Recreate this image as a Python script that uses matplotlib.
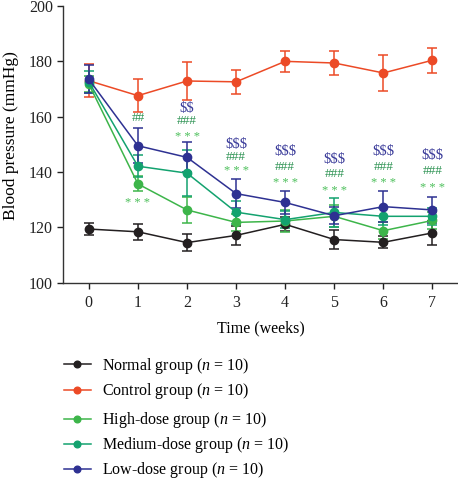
import matplotlib
matplotlib.use("Agg")
import matplotlib.pyplot as plt
from matplotlib.lines import Line2D

plt.rcParams['font.family'] = ['Liberation Serif', 'DejaVu Serif']
plt.rcParams['mathtext.fontset'] = 'custom'
plt.rcParams['mathtext.it'] = 'Liberation Serif:italic'
plt.rcParams['mathtext.rm'] = 'Liberation Serif'

weeks = [0, 1, 2, 3, 4, 5, 6, 7]

normal = [119.4, 118.4, 114.5, 117.1, 121.1, 115.6, 114.6, 118.0]
normal_err = [2.2, 2.9, 3.2, 3.3, 2.5, 3.5, 2.2, 4.2]

control = [173.0, 167.6, 172.9, 172.6, 180.0, 179.4, 175.8, 180.4]
control_err = [6.0, 6.0, 6.8, 4.4, 3.8, 4.3, 6.4, 4.6]

high = [171.8, 135.7, 126.3, 121.8, 122.3, 124.0, 118.8, 122.5]
high_err = [3.0, 2.7, 4.7, 3.0, 4.0, 4.0, 3.0, 3.0]

medium = [172.6, 142.1, 139.6, 125.5, 122.8, 125.4, 124.0, 124.0]
medium_err = [4.0, 4.0, 8.4, 4.2, 3.0, 5.2, 3.0, 3.0]

low = [173.5, 149.5, 145.3, 132.2, 129.0, 124.2, 127.5, 126.3]
low_err = [5.0, 6.3, 5.4, 5.3, 4.2, 3.0, 5.5, 4.7]

labels = ["Normal group", "Control group", "High-dose group",
          "Medium-dose group", "Low-dose group"]
colors = ["#231f20", "#ec4a26", "#3db54a", "#13a26f", "#2e3192"]

# significance annotations: (week, text, y)
dollar_marks = [(2, "$$", 163.0), (3, "$$$", 150.0), (4, "$$$", 147.6),
                (5, "$$$", 144.6), (6, "$$$", 147.4), (7, "$$$", 146.0)]
hash_marks = [(1, "##", 159.5), (2, "###", 158.4), (3, "###", 145.3),
              (4, "###", 141.9), (5, "###", 139.2), (6, "###", 141.9),
              (7, "###", 140.5)]
star_marks = [(1, "* * *", 128.7), (2, "* * *", 152.7), (3, "* * *", 140.2),
              (4, "* * *", 136.1), (5, "* * *", 133.2), (6, "* * *", 135.9),
              (7, "* * *", 134.1)]

fig = plt.figure(figsize=(4.58, 4.8), dpi=100)
ax = fig.add_axes([0.1382, 0.411, 1 - 0.1382, 0.9875 - 0.411])

series = [(normal, normal_err), (control, control_err), (high, high_err),
          (medium, medium_err), (low, low_err)]
for (vals, errs), c in zip(series, colors):
    ax.errorbar(weeks, vals, yerr=errs, color=c, marker='o', markersize=6,
                linewidth=1.1, elinewidth=1.1, capsize=3.5, capthick=1.1)

for w, t, y in dollar_marks:
    ax.text(w, y, t, color="#3b3c9a", fontsize=10.5, ha='center', va='center',
            parse_math=False)
for w, t, y in hash_marks:
    ax.text(w, y, t, color="#2a9150", fontsize=9.5, ha='center', va='center',
            parse_math=False)
for w, t, y in star_marks:
    ax.text(w, y, t, color="#4cbf5a", fontsize=9, ha='center', va='center',
            parse_math=False)

ax.set_xlim(-0.52, 7.52)
ax.set_ylim(100, 200)
ax.set_xticks(weeks)
ax.set_yticks([100, 120, 140, 160, 180, 200])
ax.spines['top'].set_visible(False)
ax.spines['right'].set_visible(False)
for s in ['left', 'bottom']:
    ax.spines[s].set_linewidth(1.0)
    ax.spines[s].set_color("#333333")
ax.tick_params(direction='out', length=4, width=1.0, labelsize=11.5,
               colors="#222222")
ax.tick_params(axis='x', pad=5)
ax.set_xlabel("Time (weeks)", fontsize=11.5)
ax.set_ylabel("Blood pressure (mmHg)", fontsize=12.5)
ax.xaxis.set_label_coords(0.5, -0.164)
ax.xaxis.label.set_va('center')
ax.yaxis.set_label_coords(-0.1325, 0.53)
ax.yaxis.label.set_va('center')

handles = [Line2D([0], [0], color=c, marker='o', markersize=4.8, linewidth=1.1)
           for c in colors]
texts = [l + r" ($n$ = 10)" for l in labels]

fs = 11.5
fig.legend(handles[:2], texts[:2], loc='upper left',
           bbox_to_anchor=(64.3 / 458, 1 - 355.7 / 480), frameon=False,
           fontsize=fs, handlelength=1.65, handletextpad=0.7,
           labelspacing=0.36, borderpad=0, borderaxespad=0)
fig.legend(handles[2:], texts[2:], loc='upper left',
           bbox_to_anchor=(64.3 / 458, 1 - 410.5 / 480), frameon=False,
           fontsize=fs, handlelength=1.65, handletextpad=0.7,
           labelspacing=0.31, borderpad=0, borderaxespad=0)

fig.savefig("out.png", dpi=100)
